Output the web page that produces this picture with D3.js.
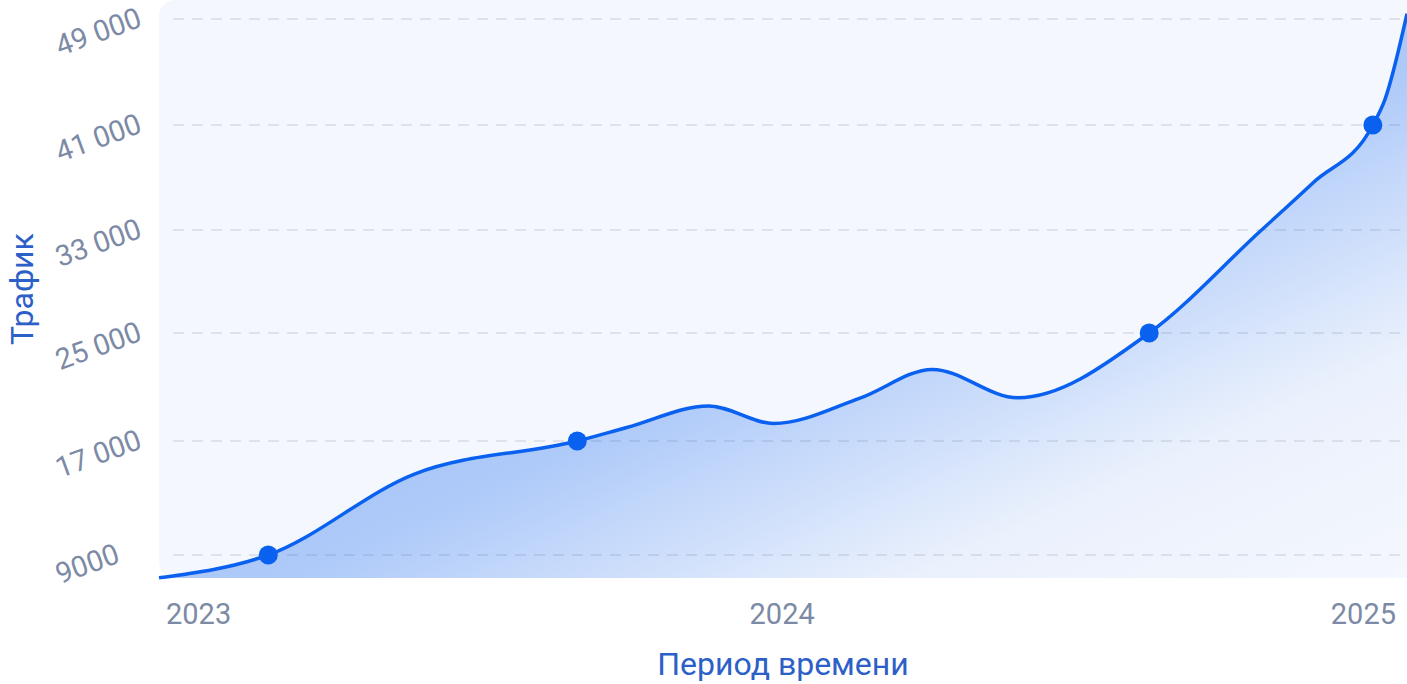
<!DOCTYPE html>
<html>
<head>
<meta charset="utf-8">
<script src="https://cdn.jsdelivr.net/npm/d3@7"></script>
<style>
    body { margin: 0; background: #fff; }
    svg { display: block; font-family: Roboto, "Noto Sans", sans-serif; }
</style>
</head>
<body>
<div id="chart"></div>
<script>
var dates = ['2023-01-01', '2023-03-06', '2023-05-31', '2023-09-03', '2023-10-02', '2023-11-19',
    '2023-12-27', '2024-02-16', '2024-03-29', '2024-05-18', '2024-08-03', '2024-10-07',
    '2024-11-07', '2024-12-12', '2024-12-19', '2025-01-01'];
var traffic = [7400, 9000, 14700, 17000, 18000, 19600, 18300, 20200, 22300, 20200, 25000, 32900,
    36600, 41000, 42900, 49400];
var markedDates = ['2023-03-06', '2023-09-03', '2024-08-03', '2024-12-12'];
var yTicks = [9000, 17000, 25000, 33000, 41000, 49000];
var yTickLabels = ['9000', '17 000', '25 000', '33 000', '41 000', '49 000'];
var xTicks = ['2023-01-01', '2024-01-01', '2025-01-01'];
var xTickLabels = ['2023', '2024', '2025'];

var width = 1407,
    height = 684,
    plot = { left: 159, right: 1407, top: 0, bottom: 578 };

var parse = d3.timeParse('%Y-%m-%d');
var data = dates.map((d, i) => ({ date: parse(d), value: traffic[i], marked: markedDates.indexOf(d) >= 0 }));

var svg = d3.select('#chart').append('svg')
    .attr('width', width)
    .attr('height', height);

var x = d3.scaleTime()
    .domain([parse(xTicks[0]), parse(xTicks[xTicks.length - 1])])
    .range([plot.left, plot.right]);
// gridlines in the picture are not evenly spaced, so the scale is piecewise
var y = d3.scaleLinear()
    .domain(yTicks)
    .range([555, 441, 333, 230, 125, 19]);

var defs = svg.append('defs');
var grad = defs.append('linearGradient')
    .attr('id', 'fill')
    .attr('x1', 0).attr('y1', 0).attr('x2', 1).attr('y2', 1);
grad.append('stop').attr('offset', 0).attr('stop-color', '#0a61f0').attr('stop-opacity', 0.5);
grad.append('stop').attr('offset', 0.55).attr('stop-color', '#0a61f0').attr('stop-opacity', 0.3);
grad.append('stop').attr('offset', 0.8).attr('stop-color', '#0a61f0').attr('stop-opacity', 0.04);
grad.append('stop').attr('offset', 1).attr('stop-color', '#0a61f0').attr('stop-opacity', 0);

svg.append('rect')
    .attr('x', plot.left)
    .attr('y', plot.top)
    .attr('width', plot.right - plot.left + 16)
    .attr('height', plot.bottom - plot.top)
    .attr('rx', 16)
    .attr('fill', '#f4f7fd');
svg.append('rect')
    .attr('x', plot.right)
    .attr('y', 0)
    .attr('width', 20)
    .attr('height', height)
    .attr('fill', '#fff');

// grid
svg.append('g')
    .selectAll('line')
    .data(yTicks)
    .enter().append('line')
    .attr('x1', plot.left + 14)
    .attr('x2', plot.right)
    .attr('y1', d => y(d))
    .attr('y2', d => y(d))
    .attr('stroke', '#d7dbe4')
    .attr('stroke-width', 1.5)
    .attr('stroke-dasharray', '11 8');

var area = d3.area()
    .x(d => x(d.date))
    .y0(plot.bottom)
    .y1(d => y(d.value))
    .curve(d3.curveMonotoneX);
var line = d3.line()
    .x(d => x(d.date))
    .y(d => y(d.value))
    .curve(d3.curveMonotoneX);

svg.append('path')
    .datum(data)
    .attr('d', area)
    .attr('fill', 'url(#fill)');
svg.append('path')
    .datum(data)
    .attr('d', line)
    .attr('fill', 'none')
    .attr('stroke', '#0a61f0')
    .attr('stroke-width', 3.5);

svg.append('g')
    .selectAll('circle')
    .data(data.filter(d => d.marked))
    .enter().append('circle')
    .attr('cx', d => x(d.date))
    .attr('cy', d => y(d.value))
    .attr('r', 9.5)
    .attr('fill', '#0a61f0');

// y tick labels, tilted, the end of each baseline sits near its gridline
var sin = Math.sin(20 * Math.PI / 180);
svg.append('g')
    .selectAll('text')
    .data(yTicks)
    .enter().append('text')
    .text((d, i) => yTickLabels[i])
    .attr('font-size', 29)
    .attr('fill', '#7d8aa6')
    .attr('text-anchor', 'start')
    .attr('transform', function(d) {
        var w = this.getComputedTextLength();
        return `translate(60,${y(d) + w * sin + 7}) rotate(-20)`;
    });

// x tick labels
svg.append('g')
    .selectAll('text')
    .data(xTicks)
    .enter().append('text')
    .text((d, i) => xTickLabels[i])
    .attr('x', d => x(parse(d)))
    .attr('dx', (d, i) => i == 0 ? 7 : (i == xTicks.length - 1 ? -11 : 0))
    .attr('y', 624)
    .attr('font-size', 29)
    .attr('fill', '#7d8aa6')
    .attr('text-anchor', (d, i) => i == 0 ? 'start' : (i == xTicks.length - 1 ? 'end' : 'middle'));

svg.append('text')
    .text('Период времени')
    .attr('x', (plot.left + plot.right) / 2)
    .attr('y', 675)
    .attr('text-anchor', 'middle')
    .attr('font-size', 32)
    .attr('fill', '#2c60c8');

svg.append('text')
    .text('Трафик')
    .attr('transform', `translate(33,${(plot.top + plot.bottom) / 2}) rotate(-90)`)
    .attr('text-anchor', 'middle')
    .attr('font-size', 32)
    .attr('fill', '#2c60c8');
</script>
</body>
</html>
